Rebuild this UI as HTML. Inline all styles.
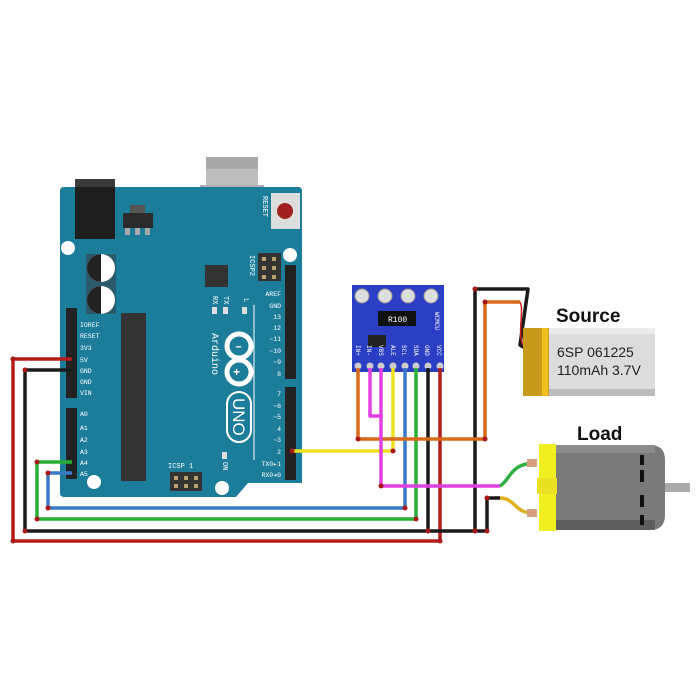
<!DOCTYPE html>
<html><head><style>body{margin:0;background:#fff}svg{display:block}</style></head>
<body>
<svg width="700" height="700" viewBox="0 0 700 700" xmlns="http://www.w3.org/2000/svg" font-family="Liberation Mono, monospace">
<rect width="700" height="700" fill="#fff"/>
<!-- USB -->
<rect x="206" y="157" width="52" height="72" fill="#bdbdbd"/>
<rect x="206" y="157" width="52" height="12" fill="#a8a8a8"/>
<rect x="200" y="185" width="64" height="8" fill="#b0b0b0"/>
<!-- Board -->
<path d="M64 187 H298 Q302 187 302 191 V483 H248 L236 497 H64 Q60 497 60 493 V191 Q60 187 64 187Z" fill="#1c7d9b"/>
<!-- power jack -->
<rect x="75" y="179" width="40" height="60" fill="#1e1e1e"/>
<rect x="75" y="179" width="40" height="8" fill="#3a3a3a"/>
<!-- regulator -->
<rect x="130" y="205" width="15" height="8" fill="#555"/>
<rect x="123" y="213" width="30" height="15" fill="#2b2b2b"/>
<rect x="125" y="228" width="5" height="7" fill="#aaa"/><rect x="135" y="228" width="5" height="7" fill="#aaa"/><rect x="145" y="228" width="5" height="7" fill="#aaa"/>
<!-- reset -->
<rect x="271" y="193" width="29" height="36" fill="#ddd"/>
<circle cx="285" cy="211" r="8" fill="#a02020"/>
<text x="263" y="196" font-size="7" fill="#fff" transform="rotate(90 263 196)">RESET</text>
<!-- mounting holes -->
<circle cx="68" cy="248" r="7" fill="#fff"/><circle cx="290" cy="255" r="7" fill="#fff"/>
<circle cx="94" cy="482" r="7" fill="#fff"/><circle cx="222" cy="488" r="7" fill="#fff"/>
<!-- caps -->
<rect x="86" y="254" width="30" height="60" fill="#2a5a6a"/>
<circle cx="101" cy="268" r="14" fill="#fff"/><path d="M101 254 A14 14 0 0 0 101 282Z" fill="#222"/>
<circle cx="101" cy="300" r="14" fill="#fff"/><path d="M101 286 A14 14 0 0 0 101 314Z" fill="#222"/>
<!-- chips -->
<rect x="121" y="313" width="25" height="168" fill="#333"/>
<rect x="205" y="265" width="23" height="22" fill="#333"/>
<!-- ICSP2 -->
<rect x="258" y="253" width="23" height="28" fill="#333"/>
<g fill="#b8a070"><rect x="262" y="257" width="4" height="4"/><rect x="272" y="257" width="4" height="4"/><rect x="262" y="266" width="4" height="4"/><rect x="272" y="266" width="4" height="4"/><rect x="262" y="275" width="4" height="4"/><rect x="272" y="275" width="4" height="4"/></g>
<text x="250" y="255" font-size="7" fill="#fff" transform="rotate(90 250 255)">ICSP2</text>
<!-- ICSP -->
<rect x="170" y="472" width="32" height="19" fill="#333"/>
<g fill="#b8a070"><rect x="174" y="476" width="4" height="4"/><rect x="184" y="476" width="4" height="4"/><rect x="194" y="476" width="4" height="4"/><rect x="174" y="484" width="4" height="4"/><rect x="184" y="484" width="4" height="4"/><rect x="194" y="484" width="4" height="4"/></g>
<text x="168" y="468" font-size="7" fill="#fff">ICSP  1</text>
<!-- LEDs -->
<g fill="#ddd"><rect x="212" y="307" width="5" height="7"/><rect x="223" y="307" width="5" height="7"/><rect x="242" y="307" width="5" height="7"/><rect x="222" y="452" width="5" height="7"/></g>
<text x="213" y="296" font-size="7" fill="#fff" transform="rotate(90 213 296)">RX</text>
<text x="224" y="296" font-size="7" fill="#fff" transform="rotate(90 224 296)">TX</text>
<text x="244" y="298" font-size="7" fill="#fff" transform="rotate(90 244 298)">L</text>
<text x="223" y="462" font-size="7" fill="#fff" transform="rotate(90 223 462)">ON</text>
<line x1="254" y1="305" x2="254" y2="460" stroke="#fff" stroke-width="1"/>
<!-- logo -->
<g fill="none" stroke="#fff" stroke-width="5"><circle cx="239" cy="346" r="12"/><circle cx="239" cy="372" r="12"/></g>
<text x="235" y="350" font-size="12" fill="#fff" font-weight="bold">–</text><text x="233" y="376" font-size="12" fill="#fff" font-weight="bold">+</text>
<rect x="227" y="392" width="24" height="50" rx="12" fill="none" stroke="#fff" stroke-width="2"/>
<text x="233" y="398" font-size="17" fill="#fff" font-family="Liberation Sans, sans-serif" transform="rotate(90 233 398)">UNO</text>
<text x="212" y="333" font-size="10" fill="#fff" transform="rotate(90 212 333)">Arduino</text>
<!-- headers -->
<rect x="66" y="308" width="11" height="90" fill="#222"/>
<rect x="66" y="408" width="11" height="71" fill="#222"/>
<rect x="285" y="265" width="11" height="114" fill="#222"/>
<rect x="285" y="387" width="11" height="93" fill="#222"/>
<g font-size="6.5" fill="#fff">
<text x="80" y="327">IOREF</text><text x="80" y="338">RESET</text><text x="80" y="350">3V3</text><text x="80" y="362">5V</text><text x="80" y="373">GND</text><text x="80" y="384">GND</text><text x="80" y="395">VIN</text>
<text x="80" y="416">A0</text><text x="80" y="430">A1</text><text x="80" y="442">A2</text><text x="80" y="454">A3</text><text x="80" y="465">A4</text><text x="80" y="476">A5</text>
<text x="281" y="296" text-anchor="end">AREF</text><text x="281" y="308" text-anchor="end">GND</text><text x="281" y="319" text-anchor="end">13</text><text x="281" y="330" text-anchor="end">12</text><text x="281" y="341" text-anchor="end">~11</text><text x="281" y="353" text-anchor="end">~10</text><text x="281" y="364" text-anchor="end">~9</text><text x="281" y="376" text-anchor="end">8</text>
<text x="281" y="396" text-anchor="end">7</text><text x="281" y="408" text-anchor="end">~6</text><text x="281" y="419" text-anchor="end">~5</text><text x="281" y="431" text-anchor="end">4</text><text x="281" y="442" text-anchor="end">~3</text><text x="281" y="454" text-anchor="end">2</text><text x="281" y="466" text-anchor="end">TX0▸1</text><text x="281" y="477" text-anchor="end">RX0◂0</text>
</g>
<!-- INA219 -->
<rect x="352" y="285" width="92" height="87" fill="#2b3fc4"/>
<g fill="#ddd" stroke="#999"><circle cx="362" cy="296" r="7"/><circle cx="385" cy="296" r="7"/><circle cx="408" cy="296" r="7"/><circle cx="431" cy="296" r="7"/></g>
<rect x="378" y="311" width="38" height="15" fill="#111"/>
<text x="388" y="322" font-size="8" fill="#fff">R100</text>
<rect x="368" y="335" width="18" height="12" fill="#222"/>
<g font-size="6" fill="#fff">
<text x="356" y="345" transform="rotate(90 356 345)">IN+</text><text x="367" y="345" transform="rotate(90 367 345)">IN-</text><text x="379" y="345" transform="rotate(90 379 345)">VBS</text><text x="391" y="345" transform="rotate(90 391 345)">ALE</text><text x="402" y="345" transform="rotate(90 402 345)">SCL</text><text x="414" y="345" transform="rotate(90 414 345)">SDA</text><text x="425" y="345" transform="rotate(90 425 345)">GND</text><text x="437" y="345" transform="rotate(90 437 345)">VCC</text>
<text x="435" y="312" transform="rotate(90 435 312)">WCMCU</text></g>
<g fill="#ccc"><circle cx="358" cy="366" r="3.5"/><circle cx="370" cy="366" r="3.5"/><circle cx="381" cy="366" r="3.5"/><circle cx="393" cy="366" r="3.5"/><circle cx="405" cy="366" r="3.5"/><circle cx="416" cy="366" r="3.5"/><circle cx="428" cy="366" r="3.5"/><circle cx="440" cy="366" r="3.5"/></g>
<!-- wires -->
<g fill="none" stroke-width="3.5" stroke-linejoin="round">
<polyline points="72,359 13,359 13,541 440,541 440,368" stroke="#b51c1c"/>
<polyline points="72,370 25,370 25,531 428,531 428,368" stroke="#1a1a1a"/>
<polyline points="428,531 487,531 487,498 500,498" stroke="#1a1a1a"/>
<polyline points="475,531 475,289 528,289 520,345 528,350" stroke="#1a1a1a"/>
<polyline points="72,462 37,462 37,519 416,519 416,368" stroke="#26b036"/>
<polyline points="72,473 48,473 48,508 405,508 405,368" stroke="#3a78c8"/>
<polyline points="292,451 393,451 393,368" stroke="#f0e020"/>
<polyline points="358,368 358,439 485,439 485,302 520,302" stroke="#d86a1a"/>
<polyline points="370,368 370,416 381,416 381,368" stroke="#e040e0"/>
<polyline points="381,416 381,486 500,486" stroke="#e040e0"/>
<path d="M500,486 C510,480 510,465 532,463" stroke="#30b040"/>
<path d="M500,498 C515,498 515,513 532,513" stroke="#e0b020"/>
<path d="M520,302 C525,310 515,340 526,348" stroke="#d02020" stroke-width="1.5"/>
</g>
<g fill="#a81818"><circle cx="13" cy="359" r="2.5"/><circle cx="13" cy="541" r="2.5"/><circle cx="440" cy="541" r="2.5"/><circle cx="25" cy="370" r="2.5"/><circle cx="25" cy="531" r="2.5"/><circle cx="428" cy="531" r="2.5"/><circle cx="475" cy="531" r="2.5"/><circle cx="487" cy="531" r="2.5"/><circle cx="475" cy="289" r="2.5"/><circle cx="37" cy="462" r="2.5"/><circle cx="37" cy="519" r="2.5"/><circle cx="416" cy="519" r="2.5"/><circle cx="48" cy="473" r="2.5"/><circle cx="48" cy="508" r="2.5"/><circle cx="405" cy="508" r="2.5"/><circle cx="292" cy="451" r="2.5"/><circle cx="393" cy="451" r="2.5"/><circle cx="358" cy="439" r="2.5"/><circle cx="485" cy="439" r="2.5"/><circle cx="485" cy="302" r="2.5"/><circle cx="381" cy="486" r="2.5"/><circle cx="487" cy="498" r="2.5"/></g>
<!-- battery -->
<rect x="523" y="328" width="132" height="68" fill="#dcdcdc"/>
<rect x="523" y="328" width="132" height="6" fill="#ececec"/>
<rect x="523" y="389" width="132" height="7" fill="#bdbdbd"/>
<rect x="523" y="328" width="26" height="68" fill="#c89a1c"/>
<rect x="542" y="328" width="6" height="68" fill="#f0c020"/>
<text x="557" y="357" font-size="14" font-family="Liberation Sans, sans-serif" fill="#222">6SP 061225</text>
<text x="557" y="375" font-size="14" font-family="Liberation Sans, sans-serif" fill="#222">110mAh 3.7V</text>
<text x="556" y="322" font-size="19" font-weight="bold" font-family="Liberation Sans, sans-serif" fill="#111">Source</text>
<text x="577" y="440" font-size="19" font-weight="bold" font-family="Liberation Sans, sans-serif" fill="#111">Load</text>
<!-- motor -->
<rect x="664" y="483" width="26" height="9" fill="#aaa"/>
<path d="M555 445 H650 Q665 445 665 460 V515 Q665 530 650 530 H555Z" fill="#7a7a7a"/>
<rect x="555" y="445" width="100" height="8" fill="#8c8c8c"/>
<rect x="555" y="520" width="100" height="10" fill="#5e5e5e"/>
<g fill="#111"><rect x="640" y="455" width="4" height="10"/><rect x="640" y="470" width="4" height="12"/><rect x="640" y="495" width="4" height="12"/><rect x="640" y="515" width="4" height="10"/></g>
<rect x="539" y="444" width="17" height="87" fill="#f0f020"/>
<rect x="537" y="478" width="20" height="16" fill="#e8e020"/>
<rect x="527" y="459" width="10" height="8" fill="#d8a080"/><rect x="527" y="509" width="10" height="8" fill="#d8a080"/>
</svg>
</body></html>
